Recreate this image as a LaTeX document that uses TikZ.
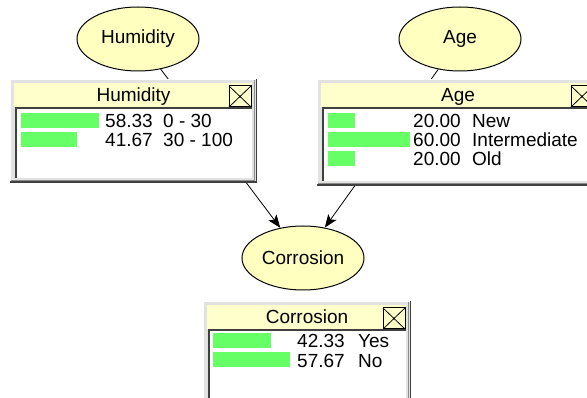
\documentclass[tikz,border=0pt]{standalone}
\usepackage{fontspec}
\setmainfont{Liberation Sans}
\usetikzlibrary{arrows.meta,shapes.geometric}
\definecolor{ellfill}{RGB}{255,255,192}
\definecolor{titlefill}{RGB}{255,255,204}
\definecolor{framegray}{RGB}{226,226,224}
\definecolor{darkedge}{RGB}{64,64,64}
\definecolor{midedge}{RGB}{140,140,140}
\definecolor{bargreen}{RGB}{102,255,102}
\newcommand\monitorbox[6]{%
  % #1 x1, #2 y1, #3 x2, #4 y2, #5 name, #6 title
  \fill[framegray] (#1,#2) rectangle (#3,#4);
  \draw[white, line width=1pt] (#1+0.5,#4) -- (#1+0.5,#2+0.5) -- (#3,#2+0.5);
  \draw[midedge, line width=1pt] (#1+1,#4-2.5) -- (#3-2.5,#4-2.5) -- (#3-2.5,#2+1);
  \draw[darkedge, line width=1.5pt] (#1,#4-0.75) -- (#3-0.75,#4-0.75) -- (#3-0.75,#2);
  \fill[titlefill] (#1+4,#2+4) rectangle (#3-5,#2+28);
  \fill[white] (#1+6,#2+28) rectangle (#3-5,#4-5);
  \draw[darkedge, line width=2pt] (#1+6,#4-5) -- (#1+6,#2+29) -- (#3-5,#2+29);
  \draw[black, line width=1pt] (#3-28,#2+7) rectangle (#3-6,#2+28);
  \draw[black, line width=0.8pt] (#3-28,#2+7) -- (#3-6,#2+28) (#3-28,#2+28) -- (#3-6,#2+7);
  \node[ttl] (#5) at ({(#1+#3)/2},#2+23) {#6};
}
\begin{document}
\begin{tikzpicture}[x=1pt,y=-1pt, font=\fontsize{19}{20}\selectfont,
  var/.style={ellipse, draw=black, fill=ellfill, minimum width=122pt, minimum height=64pt, inner sep=0pt, line width=1pt},
  link/.style={draw=black, line width=0.8pt, -{Stealth[length=13pt,width=10pt,inset=3pt]}},
  bar/.style={fill=bargreen, draw=none},
  lbl/.style={anchor=base west, inner sep=0pt},
  ttl/.style={anchor=base, inner sep=0pt},
  ]
  \useasboundingbox (0,0) rectangle (587,398);
  \clip (0,0) rectangle (587,398);
  \fill[white] (0,0) rectangle (587,398);

  % variables
  \node[var] (hum) at (138,39) {Humidity};
  \node[var] (age) at (460,39) {Age};
  \node[var] (cor) at (303,258) {Corrosion};

  % links
  \draw[link] (hum) -- (cor);
  \draw[link] (age) -- (cor);

  % Humidity monitor
  \monitorbox{10}{79}{257}{183}{humt}{Humidity}
  \fill[bar] (21,113) rectangle (99,128);
  \fill[bar] (21,132) rectangle (77,147);
  \node[lbl] (h1v) at (105,128) {58.33};
  \node[lbl] (h1s) at (163,128) {0 - 30};
  \node[lbl] (h2v) at (105,147) {41.67};
  \node[lbl] (h2s) at (163,147) {30 - 100};

  % Age monitor
  \monitorbox{317}{79}{599}{186}{aget}{Age}
  \fill[bar] (328,113) rectangle (355,128);
  \fill[bar] (328,132) rectangle (410,147);
  \fill[bar] (328,151) rectangle (355,166);
  \node[lbl] (a1v) at (413,128) {20.00};
  \node[lbl] (a1s) at (472,128) {New};
  \node[lbl] (a2v) at (413,147) {60.00};
  \node[lbl] (a2s) at (472,147) {Intermediate};
  \node[lbl] (a3v) at (413,166) {20.00};
  \node[lbl] (a3s) at (472,166) {Old};

  % Corrosion monitor
  \monitorbox{203}{301}{411}{412}{cort}{Corrosion}
  \fill[bar] (213,333) rectangle (271,348);
  \fill[bar] (213,352) rectangle (290,367);
  \node[lbl] (c1v) at (297,348) {42.33};
  \node[lbl] (c1s) at (358,348) {Yes};
  \node[lbl] (c2v) at (297,367) {57.67};
  \node[lbl] (c2s) at (358,367) {No};
\end{tikzpicture}
\end{document}
